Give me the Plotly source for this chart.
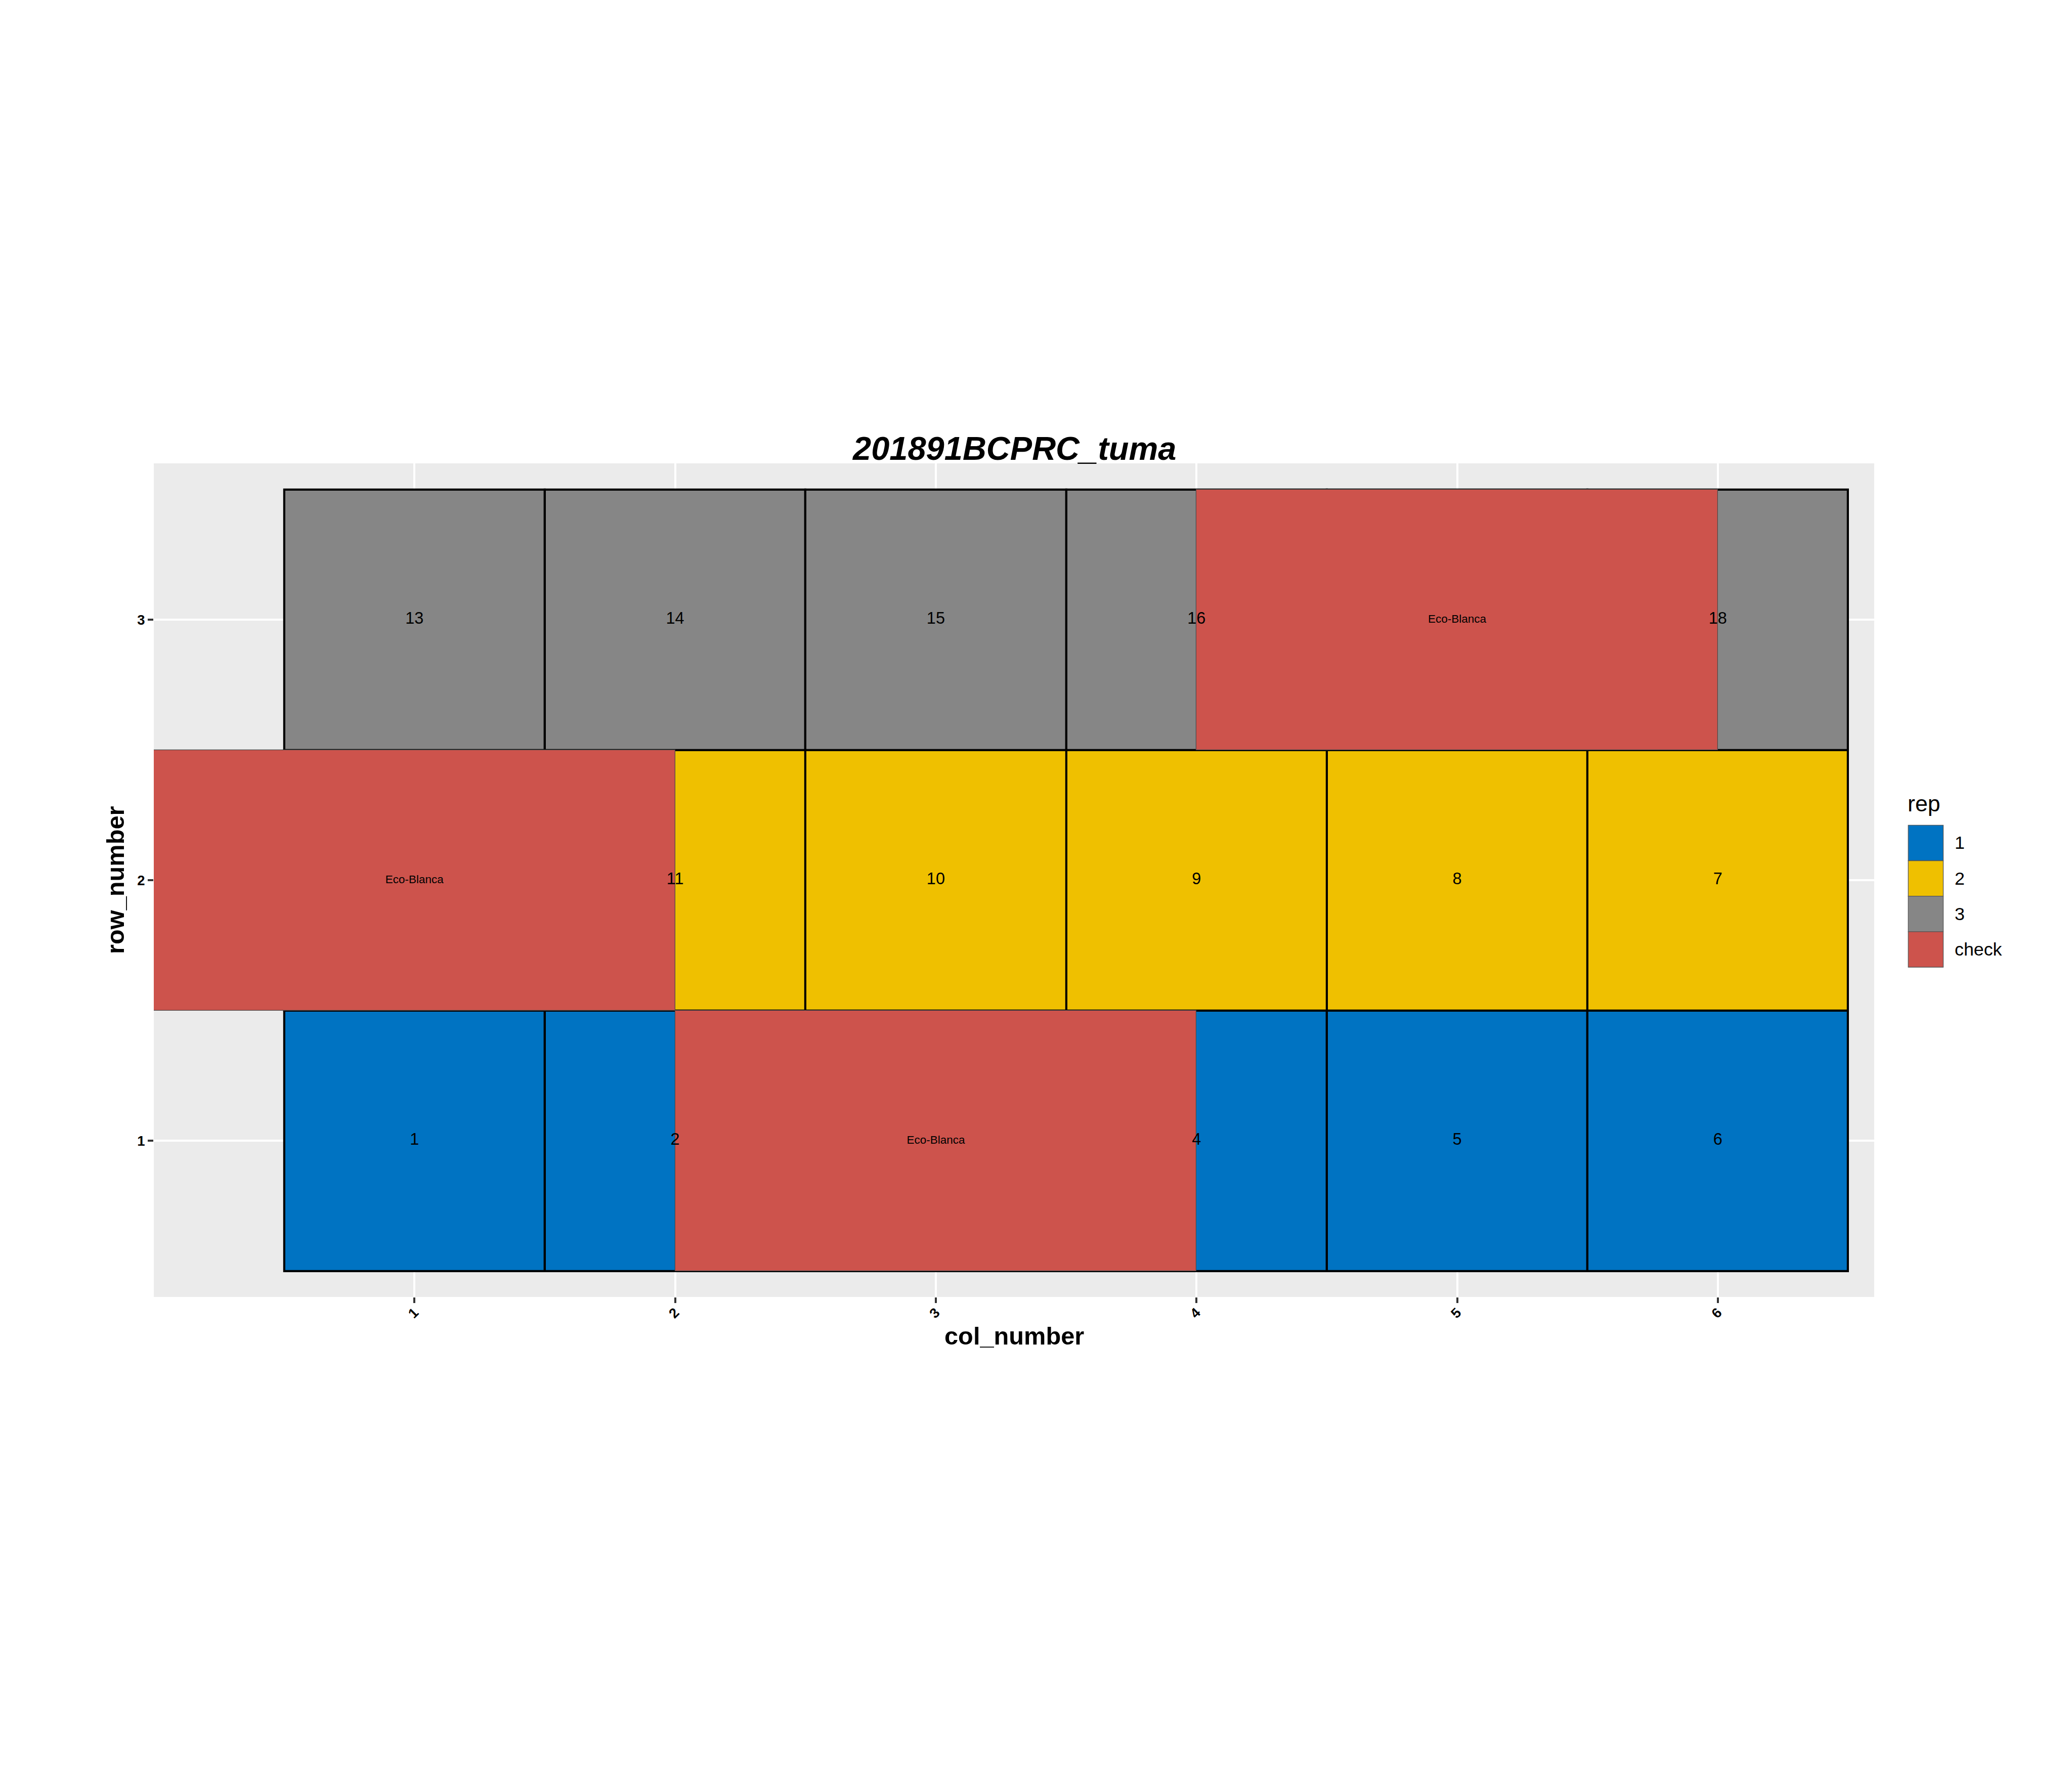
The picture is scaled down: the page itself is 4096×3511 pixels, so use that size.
import plotly.graph_objects as go

# ---------------- data ----------------
plot_number = [1, 2, 3, 4, 5, 6, 7, 8, 9, 10, 11, 12, 13, 14, 15, 16, 17, 18]
row_number = [1, 1, 1, 1, 1, 1, 2, 2, 2, 2, 2, 2, 3, 3, 3, 3, 3, 3]
col_number = [1, 2, 3, 4, 5, 6, 6, 5, 4, 3, 2, 1, 1, 2, 3, 4, 5, 6]
rep = ["1", "1", "1", "1", "1", "1", "2", "2", "2", "2", "2", "2",
       "3", "3", "3", "3", "3", "3"]
check_plots = [3, 12, 17]
check_name = "Eco-Blanca"
check_tile_width = 2
x_ticks = [1, 2, 3, 4, 5, 6]
y_ticks = [1, 2, 3]
legend_levels = ["1", "2", "3", "check"]
title_text = "201891BCPRC_tuma"

colors = {"1": "#0073C2", "2": "#EFC000", "3": "#868686", "check": "#CD534C"}

# ---------------- geometry (output px) ----------------
W, H = 4096, 3511
S = 0.975
L = 312 * S
R = 3800 * S
T = 939 * S
B = 2630 * S
FONT = "Liberation Sans, Arial, Helvetica, sans-serif"


def xp(px):
    return (px - L) / (R - L)


def yp(py):
    return (B - py) / (B - T)


fig = go.Figure()

# regular tiles
for lev in ["1", "2", "3"]:
    idx = [i for i in range(len(plot_number)) if rep[i] == lev]
    fig.add_trace(go.Bar(
        x=[col_number[i] for i in idx],
        y=[1] * len(idx),
        base=[row_number[i] - 0.5 for i in idx],
        width=1,
        marker=dict(color=colors[lev], line=dict(color="black", width=4.2)),
        showlegend=False, hoverinfo="skip",
    ))

# check tiles
cidx = [plot_number.index(p) for p in check_plots]
fig.add_trace(go.Bar(
    x=[col_number[i] for i in cidx],
    y=[1] * len(cidx),
    base=[row_number[i] - 0.5 for i in cidx],
    width=check_tile_width,
    marker=dict(color=colors["check"], line=dict(color="#4a4a4a", width=1.2)),
    showlegend=False, hoverinfo="skip",
))

# labels
nidx = [i for i in range(len(plot_number)) if plot_number[i] not in check_plots]
fig.add_trace(go.Scatter(
    x=[col_number[i] for i in nidx],
    y=[row_number[i] for i in nidx],
    text=[str(plot_number[i]) for i in nidx],
    mode="text",
    textfont=dict(family=FONT, size=32.5, color="black"),
    showlegend=False, hoverinfo="skip",
))
fig.add_trace(go.Scatter(
    x=[col_number[i] for i in cidx],
    y=[row_number[i] for i in cidx],
    text=[check_name] * len(cidx),
    mode="text",
    textfont=dict(family=FONT, size=22.5, color="black"),
    showlegend=False, hoverinfo="skip",
))

shapes = []
annotations = []

# title
annotations.append(dict(
    text=title_text, xref="paper", yref="paper",
    x=0.5, y=yp((933 - 0.358 * 66.7) * S), xanchor="center", yanchor="middle",
    showarrow=False,
    font=dict(family=FONT, size=65, color="black", weight="bold", style="italic"),
))
# axis titles
annotations.append(dict(
    text="col_number", xref="paper", yref="paper",
    x=0.5, y=yp((2727 - 0.358 * 50) * S), xanchor="center", yanchor="middle",
    showarrow=False,
    font=dict(family=FONT, size=48.75, color="black", weight="bold"),
))
annotations.append(dict(
    text="row_number", xref="paper", yref="paper",
    x=xp((252 - 0.358 * 50) * S), y=0.5, xanchor="center", yanchor="middle",
    textangle=-90, showarrow=False,
    font=dict(family=FONT, size=48.75, color="black", weight="bold"),
))

# legend (manual)
annotations.append(dict(
    text="rep", xref="paper", yref="paper",
    x=xp(3866 * S), y=yp((1645 - 0.358 * 45.8) * S), xanchor="left", yanchor="middle",
    showarrow=False, font=dict(family=FONT, size=44.7, color="black"),
))
key_top = 1673
key_h = 72
for k, lev in enumerate(legend_levels):
    y0 = (key_top + k * key_h) * S
    y1 = (key_top + (k + 1) * key_h) * S
    shapes.append(dict(
        type="rect", xref="paper", yref="paper",
        x0=xp(3869 * S), x1=xp(3940 * S), y0=yp(y1), y1=yp(y0),
        fillcolor=colors[lev], line=dict(color="#555555", width=1.3),
    ))
    annotations.append(dict(
        text=lev, xref="paper", yref="paper",
        x=xp(3961 * S), y=yp((y0 + y1) / 2), xanchor="left", yanchor="middle",
        showarrow=False, font=dict(family=FONT, size=35.8, color="black"),
    ))

fig.update_layout(
    width=W, height=H,
    margin=dict(l=L, r=W - R, t=T, b=H - B, autoexpand=False),
    paper_bgcolor="white", plot_bgcolor="#EBEBEB",
    barmode="overlay", bargap=0,
    showlegend=False,
    shapes=shapes, annotations=annotations,
    font=dict(family=FONT),
)
fig.update_xaxes(
    range=[0, 6.6], tickmode="array", tickvals=x_ticks,
    ticktext=[str(v) for v in x_ticks], tickangle=-45,
    ticks="outside", ticklen=11, tickwidth=3.5, tickcolor="#333333",
    ticklabelstandoff=-8,
    tickfont=dict(family=FONT, size=27.5, color="black", weight="bold"),
    showgrid=True, gridcolor="white", gridwidth=3.9,
    zeroline=False, showline=False, fixedrange=True,
)
fig.update_yaxes(
    range=[0.4, 3.6], tickmode="array", tickvals=y_ticks,
    ticktext=[str(v) for v in y_ticks],
    ticks="outside", ticklen=11, tickwidth=3.5, tickcolor="#333333",
    tickfont=dict(family=FONT, size=27.5, color="black", weight="bold"),
    showgrid=True, gridcolor="white", gridwidth=3.9,
    zeroline=False, showline=False, fixedrange=True,
)

fig.write_html("out.html")
